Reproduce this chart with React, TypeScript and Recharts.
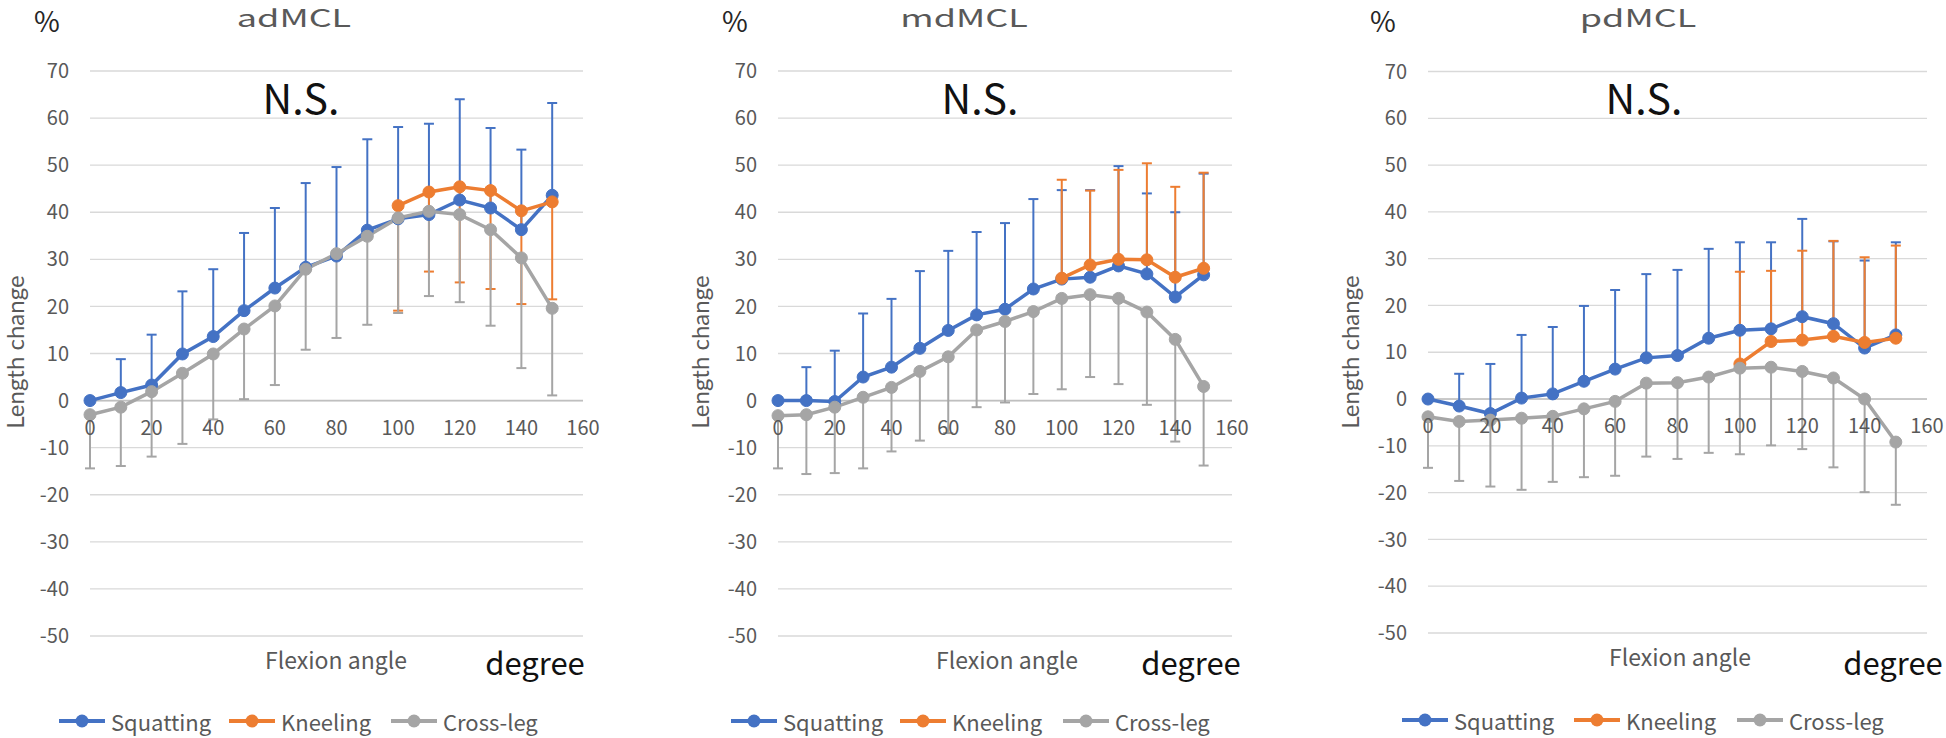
import React from 'react';
import { LineChart, Line, XAxis, YAxis, CartesianGrid, ErrorBar, ReferenceLine, ReferenceDot } from 'recharts';

const FONT = '"Noto Sans CJK JP", "Noto Sans", sans-serif';
const BLUE = '#4472C4';
const ORANGE = '#ED7D31';
const GRAY = '#A5A5A5';
const TEXT = '#595959';

// flexion angle (degree)
const ANGLES = [0, 10, 20, 30, 40, 50, 60, 70, 80, 90, 100, 110, 120, 130, 140, 150];
const X_TICKS = [0, 20, 40, 60, 80, 100, 120, 140, 160];
const Y_TICKS = [-50, -40, -30, -20, -10, 0, 10, 20, 30, 40, 50, 60, 70];
const SERIES = ['Squatting', 'Kneeling', 'Cross-leg'];
const TITLES = ['adMCL', 'mdMCL', 'pdMCL'];

// adMCL
const AD_SQUAT = [0, 1.7, 3.3, 9.9, 13.6, 19.1, 23.9, 28.3, 30.7, 36.2, 38.6, 39.5, 42.6, 40.9, 36.3, 43.6];
const AD_SQUAT_SD = [0, 7.1, 10.7, 13.3, 14.3, 16.5, 17.0, 17.9, 18.9, 19.3, 19.5, 19.3, 21.4, 17.0, 17.0, 19.6];
const AD_KNEEL = [null, null, null, null, null, null, null, null, null, null, 41.4, 44.3, 45.4, 44.6, 40.3, 42.2];
const AD_KNEEL_SD = [null, null, null, null, null, null, null, null, null, null, 22.3, 16.9, 20.3, 20.9, 19.8, 20.7];
const AD_CROSS = [-3.0, -1.4, 1.9, 5.8, 9.9, 15.2, 20.1, 27.9, 31.2, 34.9, 38.8, 40.2, 39.5, 36.3, 30.3, 19.6];
const AD_CROSS_SD = [11.4, 12.5, 13.8, 15.0, 13.9, 14.9, 16.8, 17.1, 17.9, 18.8, 20.2, 18.0, 18.6, 20.4, 23.4, 18.5];

// mdMCL
const MD_SQUAT = [0, 0, -0.2, 5.0, 7.1, 11.1, 14.9, 18.2, 19.4, 23.7, 25.8, 26.2, 28.6, 26.9, 22.0, 26.7];
const MD_SQUAT_SD = [0, 7.1, 10.8, 13.5, 14.5, 16.4, 16.9, 17.6, 18.3, 19.1, 18.9, 18.5, 21.2, 17.1, 18.0, 21.5];
const MD_KNEEL = [null, null, null, null, null, null, null, null, null, null, 26.0, 28.8, 30.0, 29.9, 26.2, 28.1];
const MD_KNEEL_SD = [null, null, null, null, null, null, null, null, null, null, 20.9, 15.8, 19.0, 20.5, 19.2, 20.3];
const MD_CROSS = [-3.2, -3.0, -1.4, 0.7, 2.8, 6.2, 9.3, 15.0, 16.8, 18.9, 21.7, 22.5, 21.7, 18.8, 13.0, 3.0];
const MD_CROSS_SD = [11.2, 12.6, 14.0, 15.1, 13.6, 14.7, 16.2, 16.4, 17.2, 17.5, 19.3, 17.5, 18.2, 19.7, 21.7, 16.8];

// pdMCL
const PD_SQUAT = [0, -1.5, -3.1, 0.2, 1.1, 3.8, 6.4, 8.8, 9.3, 13.0, 14.7, 15.0, 17.6, 16.1, 10.9, 13.7];
const PD_SQUAT_SD = [0, 6.9, 10.6, 13.5, 14.3, 16.1, 16.9, 17.9, 18.3, 19.1, 18.8, 18.5, 20.9, 17.6, 18.7, 19.8];
const PD_KNEEL = [null, null, null, null, null, null, null, null, null, null, 7.5, 12.3, 12.6, 13.4, 12.1, 13.0];
const PD_KNEEL_SD = [null, null, null, null, null, null, null, null, null, null, 19.7, 15.1, 19.1, 20.4, 18.2, 19.8];
const PD_CROSS = [-3.8, -4.8, -4.5, -4.1, -3.7, -2.1, -0.5, 3.4, 3.5, 4.7, 6.6, 6.8, 5.9, 4.5, 0.0, -9.2];
const PD_CROSS_SD = [10.9, 12.7, 14.2, 15.3, 14.0, 14.6, 15.9, 15.7, 16.3, 16.2, 18.4, 16.7, 16.6, 19.1, 19.9, 13.4];

const DATASETS = [
  { squat: AD_SQUAT, squatSd: AD_SQUAT_SD, kneel: AD_KNEEL, kneelSd: AD_KNEEL_SD, cross: AD_CROSS, crossSd: AD_CROSS_SD, kneelDown: true },
  { squat: MD_SQUAT, squatSd: MD_SQUAT_SD, kneel: MD_KNEEL, kneelSd: MD_KNEEL_SD, cross: MD_CROSS, crossSd: MD_CROSS_SD, kneelDown: false },
  { squat: PD_SQUAT, squatSd: PD_SQUAT_SD, kneel: PD_KNEEL, kneelSd: PD_KNEEL_SD, cross: PD_CROSS, crossSd: PD_CROSS_SD, kneelDown: false },
];

// page layout of each panel (pixels)
const LAYOUT = [
  { left: 0, width: 600, plotL: 90, plotR: 583, plotT: 71, plotB: 636,
    pct: [47, 20], title: [294, 17], ns: [301, 96], ylab: [15, 352], xlab: [336, 659], unit: [535, 661], legY: 721, legX: [59, 229, 391] },
  { left: 650, width: 600, plotL: 778, plotR: 1232, plotT: 71, plotB: 636,
    pct: [735, 20], title: [964, 17], ns: [980, 96], ylab: [700, 352], xlab: [1007, 659], unit: [1191, 661], legY: 721, legX: [731, 900, 1063] },
  { left: 1300, width: 646, plotL: 1428, plotR: 1927, plotT: 71.5, plotB: 633,
    pct: [1383, 20], title: [1638, 17], ns: [1644, 96], ylab: [1350, 352], xlab: [1680, 656], unit: [1893, 661], legY: 720, legX: [1402, 1574, 1737] },
];

const COLORS = [BLUE, ORANGE, GRAY];
const H = 738;

function buildRows(d: any) {
  return ANGLES.map((a, i) => ({
    angle: a,
    squat: d.squat[i],
    squatErr: d.squatSd[i] ? [0, d.squatSd[i]] : null,
    kneel: d.kneel[i],
    kneelErr: d.kneelSd[i] == null ? null : d.kneelDown ? [d.kneelSd[i], 0] : [0, d.kneelSd[i]],
    cross: d.cross[i],
    crossErr: [d.crossSd[i], 0],
  }));
}

function Txt({ at, children, size, color = TEXT, rotate = false, stretch = 1, font = FONT }: any) {
  return (
    <div
      style={{
        position: 'absolute', left: at[0], top: at[1], fontSize: size, color, fontFamily: font,
        lineHeight: 1, whiteSpace: 'nowrap',
        transform: `translate(-50%, -50%)${rotate ? ' rotate(-90deg)' : ''}${stretch !== 1 ? ` scaleX(${stretch})` : ''}`,
      }}
    >
      {children}
    </div>
  );
}

function LegendItem({ x, y, color, label }: any) {
  return (
    <div style={{ position: 'absolute', left: x, top: y - 11, height: 22, display: 'flex', alignItems: 'center' }}>
      <svg width={46} height={16} style={{ display: 'block' }}>
        <line x1={0} y1={8} x2={46} y2={8} stroke={color} strokeWidth={4} />
        <circle cx={23} cy={8} r={6.5} fill={color} />
      </svg>
      <div style={{ marginLeft: 6, fontSize: 22, height: 22, color: TEXT, fontFamily: FONT, lineHeight: '22px', whiteSpace: 'nowrap' }}>
        {label}
      </div>
    </div>
  );
}

function Panel({ idx }: { idx: number }) {
  const L = LAYOUT[idx];
  const d = DATASETS[idx];
  const rows = buildRows(d);
  const yW = 60;
  const dot = (c: string) => ({ r: 6, fill: c, stroke: c, strokeWidth: 1 });
  return (
    <>
      <div style={{ position: 'absolute', left: L.left, top: 0 }}>
        <LineChart
          width={L.width}
          height={H}
          data={rows}
          margin={{ top: L.plotT, bottom: H - L.plotB, left: L.plotL - L.left - yW, right: L.left + L.width - L.plotR }}
        >
          <CartesianGrid vertical={false} stroke="#D9D9D9" strokeWidth={1.3} />
          <XAxis type="number" dataKey="angle" domain={[0, 160]} ticks={X_TICKS} hide />
          <YAxis
            type="number"
            domain={[-50, 70]}
            ticks={Y_TICKS}
            interval={0}
            width={yW}
            axisLine={false}
            tickLine={false}
            tickSize={0}
            tickMargin={21}
            tick={{ fill: TEXT, fontSize: 20, fontFamily: FONT }}
          />
          <ReferenceLine y={0} stroke="#BFBFBF" strokeWidth={1.6} />
          {X_TICKS.map((t) => (
            <ReferenceDot
              key={t}
              x={t}
              y={0}
              r={0}
              fill="none"
              stroke="none"
              label={{ value: String(t), position: 'bottom', offset: 20, fill: TEXT, fontSize: 20, fontFamily: FONT }}
            />
          ))}
          <Line dataKey="squat" stroke={BLUE} strokeWidth={3.5} dot={dot(BLUE)} isAnimationActive={false}>
            <ErrorBar dataKey="squatErr" direction="y" width={5} stroke={BLUE} strokeWidth={2} />
          </Line>
          <Line dataKey="kneel" stroke={ORANGE} strokeWidth={3.5} dot={dot(ORANGE)} isAnimationActive={false}>
            <ErrorBar dataKey="kneelErr" direction="y" width={5} stroke={ORANGE} strokeWidth={2} />
          </Line>
          <Line dataKey="cross" stroke={GRAY} strokeWidth={3.5} dot={dot(GRAY)} isAnimationActive={false}>
            <ErrorBar dataKey="crossErr" direction="y" width={5} stroke={GRAY} strokeWidth={2} />
          </Line>
        </LineChart>
      </div>
      <Txt at={L.pct} size={28} color="#262626">%</Txt>
      <Txt at={L.title} size={24} stretch={1.5}>{TITLES[idx]}</Txt>
      <Txt at={L.ns} size={41} color="#111">N.S.</Txt>
      <Txt at={L.ylab} size={24} rotate font='Lato, "Noto Sans", sans-serif'>Length change</Txt>
      <Txt at={L.xlab} size={23}>Flexion angle</Txt>
      <Txt at={L.unit} size={31} color="#111">degree</Txt>
      {SERIES.map((s, i) => (
        <LegendItem key={s} x={L.legX[i]} y={L.legY} color={COLORS[i]} label={s} />
      ))}
    </>
  );
}

export default function App() {
  return (
    <div style={{ position: 'absolute', left: 0, top: 0, width: 1946, height: H, background: '#fff', overflow: 'hidden' }}>
      {[0, 1, 2].map((i) => (
        <Panel key={i} idx={i} />
      ))}
    </div>
  );
}
